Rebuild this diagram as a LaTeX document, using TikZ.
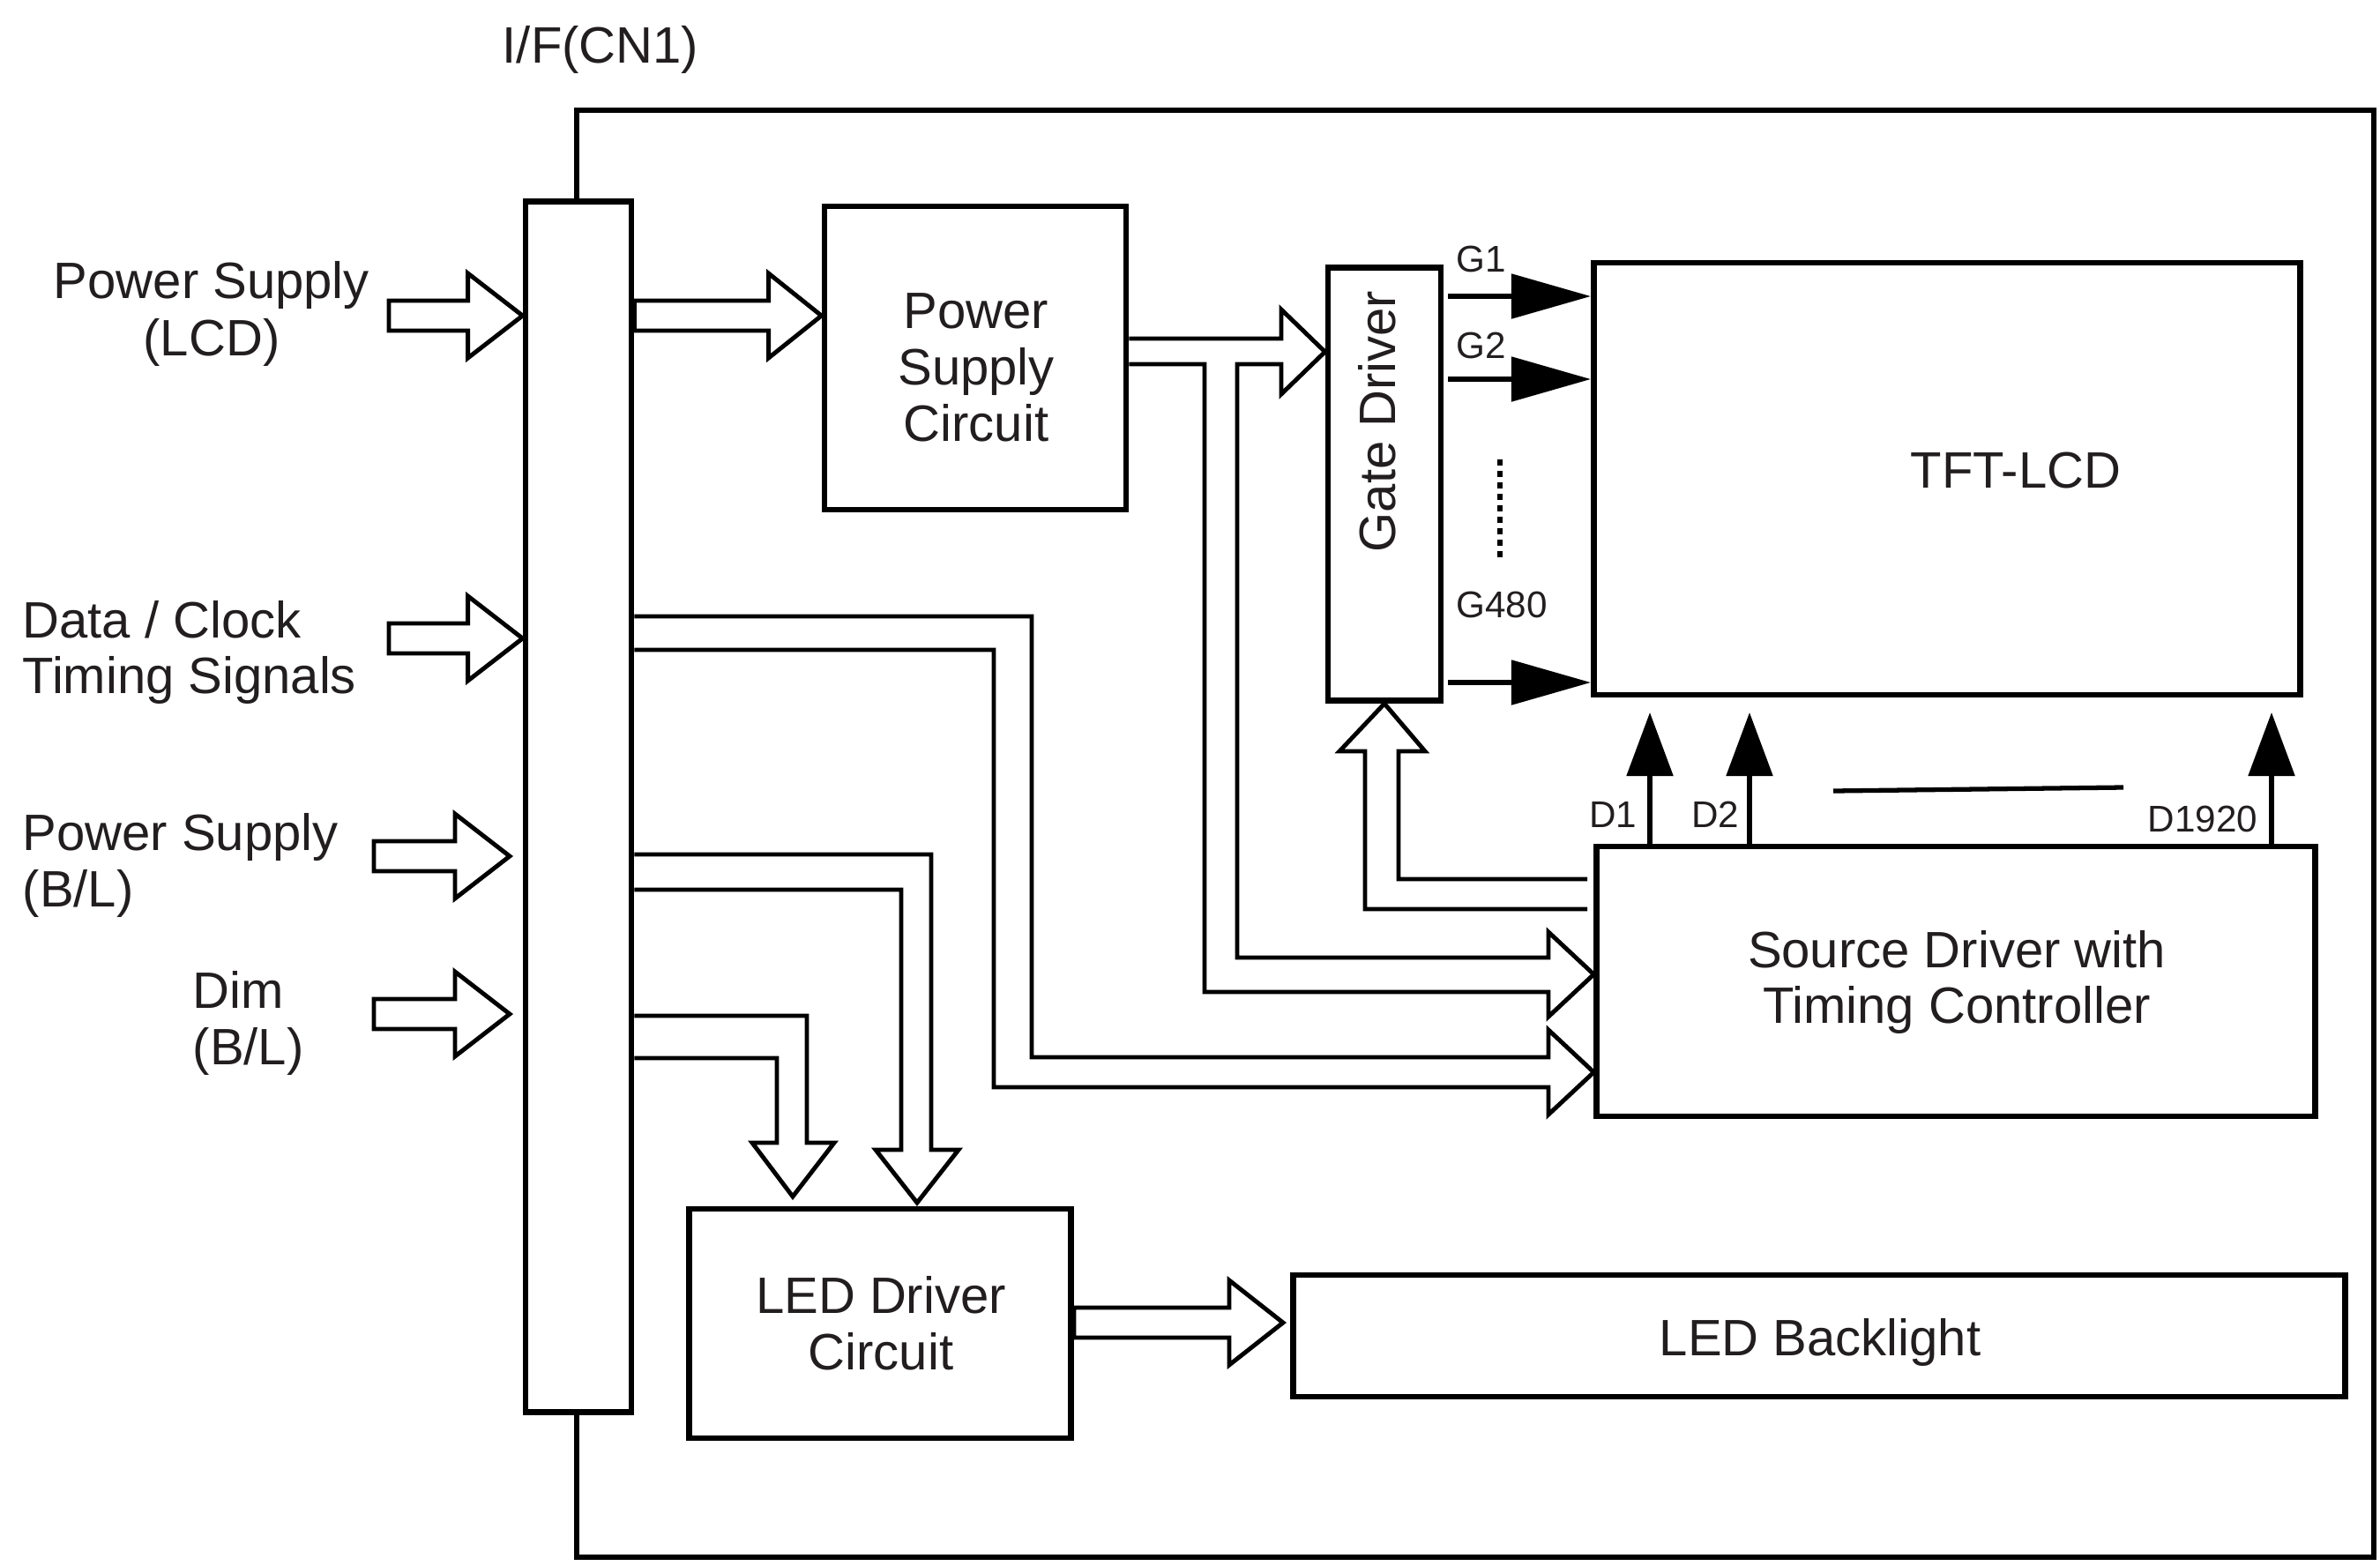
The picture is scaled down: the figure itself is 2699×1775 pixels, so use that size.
\documentclass[tikz,border=0pt]{standalone}
\usepackage{fontspec}
\setmainfont{Liberation Sans}
\usetikzlibrary{arrows.meta,calc}
\definecolor{txt}{RGB}{34,30,31}
\begin{document}
\begin{tikzpicture}[x=0.01cm,y=-0.01cm,
  box/.style={draw, line width=1.9pt, fill=white, inner sep=0pt},
  frameline/.style={draw, line width=1.7pt},
  hollow/.style={draw, line width=1.4pt, line join=miter},
  wire/.style={line width=1.5pt},
  fat/.style={wire, -{Triangle[length=0.9cm,width=0.5cm]}},
  fatv/.style={wire, -{Triangle[length=0.72cm,width=0.52cm]}},
  big/.style={font=\fontsize{16.5}{19}\selectfont, text=txt, inner sep=0pt, anchor=base},
  small/.style={font=\fontsize{12}{14}\selectfont, text=txt, inner sep=0pt, anchor=base}]
\useasboundingbox (0,0) rectangle (2699,1775);
\def\sw{17}\def\hw{48}
\newcommand{\hollowRight}[3]{% tail, tip (same y), head length
  \draw[hollow] ($(#1)+(0,-\sw)$) -- ($(#2)+(-#3,-\sw)$) -- ($(#2)+(-#3,-\hw)$) -- (#2)
     -- ($(#2)+(-#3,\hw)$) -- ($(#2)+(-#3,\sw)$) -- ($(#1)+(0,\sw)$) -- cycle;}

% outer frame
\draw[frameline] (654,125) rectangle (2692,1766);

% blocks
\node[box, minimum width=1.20cm, minimum height=13.72cm] (bar) at (656,915) {};
\node[box, minimum width=3.42cm, minimum height=3.44cm] (psc) at (1106,406) {};
\node[box, minimum width=1.28cm, minimum height=4.91cm] (gate) at (1570,549) {};
\node[box, minimum width=8.01cm, minimum height=4.90cm] (tft) at (2208,543) {};
\node[box, minimum width=8.14cm, minimum height=3.06cm] (src) at (2218,1113) {};
\node[box, minimum width=4.33cm, minimum height=2.60cm] (led) at (998,1501) {};
\node[box, minimum width=11.92cm, minimum height=1.38cm] (bl) at (2063,1515) {};

% texts
\node[big] (ifcn) at (681,71) {I/F(CN1)};
\node[big] (t1a) at (240,338) {Power Supply};
\node[big] (t1b) at (240,403) {(LCD)};
\node[big, anchor=base west] (t2a) at (25,723) {Data / Clock};
\node[big, anchor=base west] (t2b) at (25,786) {Timing Signals};
\node[big, anchor=base west] (t3a) at (25,964) {Power Supply};
\node[big, anchor=base west] (t3b) at (25,1028) {(B/L)};
\node[big, anchor=base west] (t4a) at (218,1143) {Dim};
\node[big, anchor=base west] (t4b) at (218,1207) {(B/L)};
\node[big] (pscA) at (1107,372) {Power};
\node[big] (pscB) at (1107,436) {Supply};
\node[big] (pscC) at (1107,500) {Circuit};
\node[big, rotate=90] (gatet) at (1582,478) {Gate Driver};
\node[big] (tftt) at (2286,553) {TFT-LCD};
\node[big] (srcA) at (2219,1097) {Source Driver with};
\node[big] (srcB) at (2219,1160) {Timing Controller};
\node[big] (ledA) at (999,1489) {LED Driver};
\node[big] (ledB) at (999,1553) {Circuit};
\node[big] (blt) at (2064,1537) {LED Backlight};
\node[small] (g1) at (1680,308) {G1};
\node[small] (g2) at (1680,406) {G2};
\node[small] (g480) at (1703,700) {G480};
\node[small] (d1) at (1829,938) {D1};
\node[small] (d2) at (1945,938) {D2};
\node[small] (d1920) at (2498,943) {D1920};

% straight hollow arrows
\coordinate (in1) at (441,358);   \coordinate (in1e) at (bar.west |- in1);
\coordinate (in2) at (441,724);   \coordinate (in2e) at (bar.west |- in2);
\coordinate (in3) at (424,971);   \coordinate (in3e) at (578,971);
\coordinate (in4) at (424,1150);  \coordinate (in4e) at (578,1150);
\coordinate (o1) at (bar.east |- in1); \coordinate (o1e) at (psc.west |- in1);
\coordinate (lo) at (led.east |- 0,1500); \coordinate (loe) at (1455,1500);
\hollowRight{in1}{in1e}{62}
\hollowRight{in2}{in2e}{62}
\hollowRight{in3}{in3e}{62}
\hollowRight{in4}{in4e}{62}
\hollowRight{o1}{o1e}{60}
\hollowRight{lo}{loe}{61}

% power supply circuit -> gate driver and source driver
\coordinate (gtip) at (gate.west |- 0,399);
\coordinate (s1tip) at (src.west |- 0,1105);
\draw[hollow] (psc.east |- 0,384) -- (1453,384) -- (1453,351) -- (gtip) -- (1453,447) -- (1453,413)
  -- (1403,413) -- (1403,1086) -- (1756,1086) -- (1756,1057) -- (s1tip) -- (1756,1153)
  -- (1756,1125) -- (1366,1125) -- (1366,413) -- (psc.east |- 0,413);

% data / clock -> source driver
\coordinate (s2tip) at (src.west |- 0,1216);
\draw[hollow] (bar.east |- 0,699) -- (1170,699) -- (1170,1199) -- (1756,1199) -- (1756,1168)
  -- (s2tip) -- (1756,1264) -- (1756,1233) -- (1127,1233) -- (1127,737) -- (bar.east |- 0,737);

% source driver -> gate driver
\coordinate (gbtip) at (gate.south);
\draw[hollow] (1800,997) -- (1586,997) -- (1586,852) -- (1616,852) -- (gbtip)
  -- (1519,852) -- (1548,852) -- (1548,1031) -- (1800,1031);

% power supply (B/L) -> LED driver
\draw[hollow] (bar.east |- 0,969) -- (1056,969) -- (1056,1304) -- (1087,1304) -- (1040,1364)
  -- (993,1304) -- (1022,1304) -- (1022,1009) -- (bar.east |- 0,1009);

% dim -> LED driver
\draw[hollow] (bar.east |- 0,1152) -- (915,1152) -- (915,1296) -- (946,1296) -- (899,1357)
  -- (853,1296) -- (881,1296) -- (881,1200) -- (bar.east |- 0,1200);

% gate lines
\coordinate (gs1) at (1642,336); \coordinate (gs2) at (1642,430); \coordinate (gs3) at (1642,774);
\draw[fat] (gs1) -- (tft.west |- gs1);
\draw[fat] (gs2) -- (tft.west |- gs2);
\draw[fat] (gs3) -- (tft.west |- gs3);
\draw[line width=0.06cm, dash pattern=on 0.065cm off 0.065cm] (1701,521) -- (1701,637);

% data lines
\coordinate (dt1) at (1871,808); \coordinate (dt2) at (1984,808); \coordinate (dt3) at (2576,808);
\draw[fatv] (src.north -| dt1) -- (dt1);
\draw[fatv] (src.north -| dt2) -- (dt2);
\draw[fatv] (src.north -| dt3) -- (dt3);
\draw[line width=1.5pt] (2079,897) -- (2408,893);
\end{tikzpicture}
\end{document}
